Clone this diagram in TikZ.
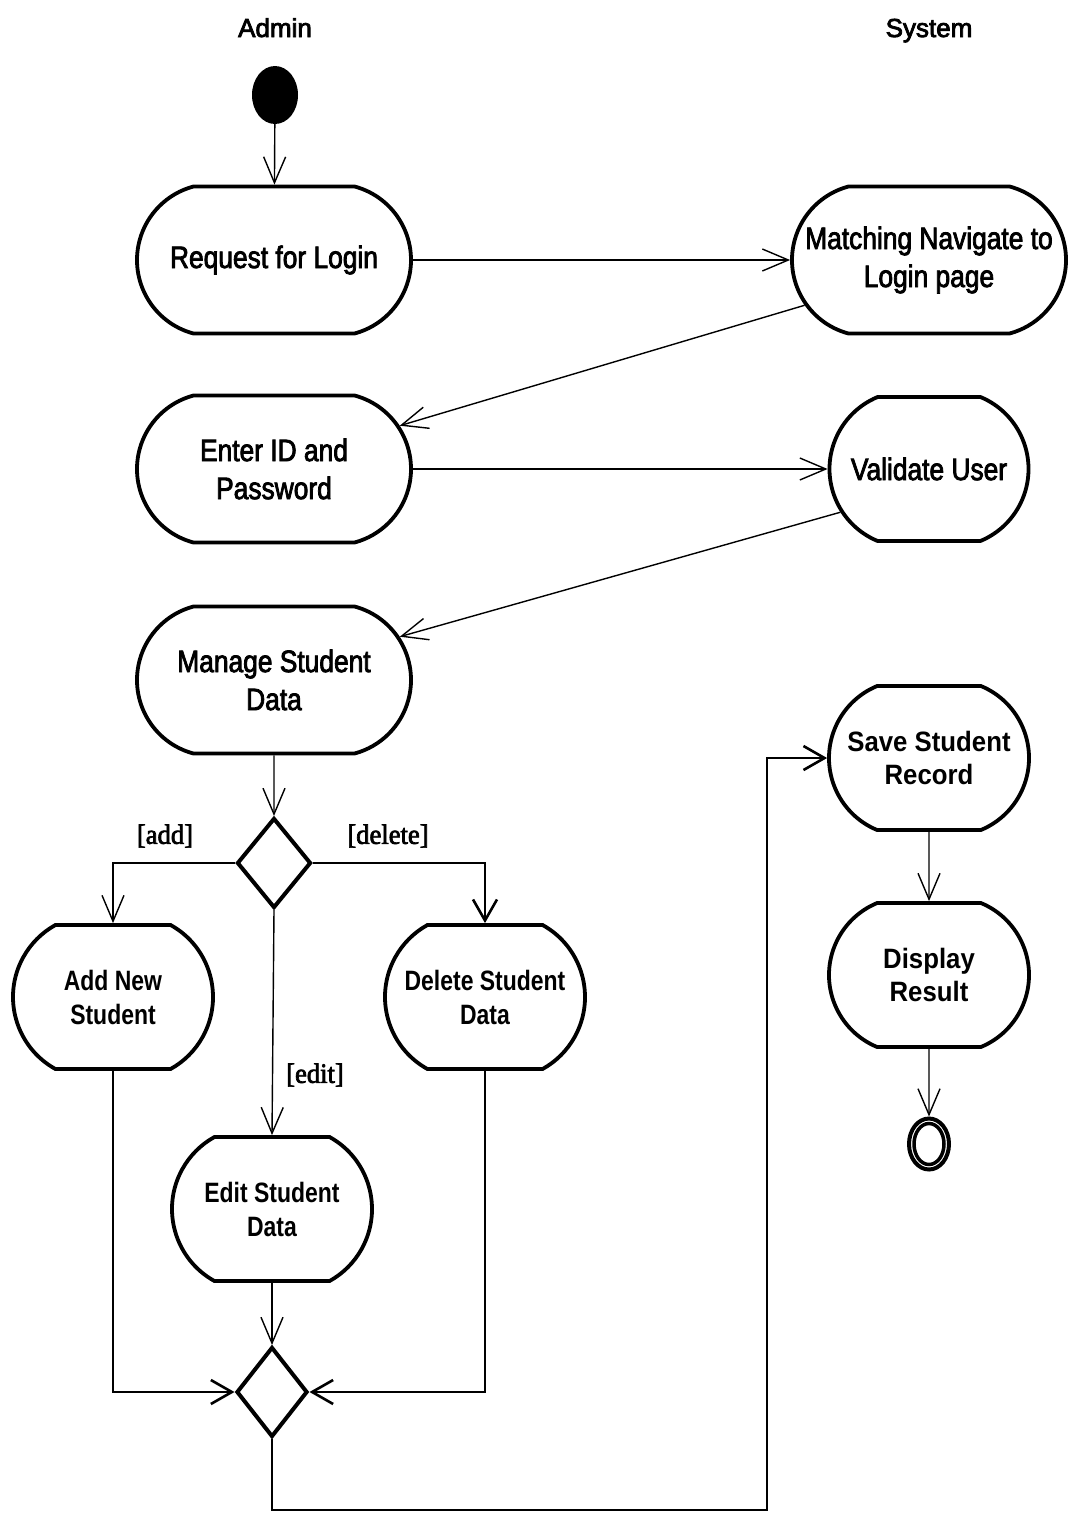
\documentclass[tikz,border=0pt]{standalone}
\usepackage{fontspec}
\usetikzlibrary{shapes.misc,shapes.geometric,arrows.meta}
\newfontfamily\lanefont[FakeBold=3]{Liberation Sans}
\newfontfamily\actfont[FakeStretch=0.85,FakeBold=2.5]{Liberation Sans}
\newfontfamily\actnarrowbold[FakeStretch=0.82]{Liberation Sans}
\newfontfamily\actwidebold[FakeStretch=0.92]{Liberation Sans}
\newfontfamily\guardfont[FakeStretch=0.95,FakeBold=2.5]{Liberation Serif}
\begin{document}
\begin{tikzpicture}[x=1pt,y=-1pt,
  act/.style={rounded rectangle, draw, line width=3.8pt, inner sep=0pt, align=center},
  bigact/.style={act, minimum width=274pt, minimum height=147pt,
    rounded rectangle arc length=150, font=\actfont\fontsize{31}{38}\selectfont},
  sysact/.style={act, minimum width=199pt, minimum height=144pt,
    rounded rectangle arc length=135, font=\actfont\fontsize{31}{38}\selectfont},
  boldact/.style={act, minimum width=200pt, minimum height=144pt,
    rounded rectangle arc length=122, font=\actnarrowbold\bfseries\fontsize{28}{34}\selectfont},
  saveact/.style={act, minimum width=200pt, minimum height=144pt,
    rounded rectangle arc length=135, font=\actwidebold\bfseries\fontsize{28}{33}\selectfont},
  choice/.style={diamond, draw, line width=4pt, inner sep=0pt},
  lane/.style={font=\lanefont\fontsize{26}{30}\selectfont, anchor=base},
  guard/.style={font=\guardfont\fontsize{28}{32}\selectfont},
  flow/.style={line width=1.4pt, -{Straight Barb[length=26pt,width=22pt]}},
  heavy/.style={line width=2.6pt, -{Straight Barb[length=21pt,width=24pt]}},
]
\useasboundingbox (0,0) rectangle (1070,1515);

% swimlane headings
\node[lane] (admin) at (275,37) {Admin};
\node[lane] (system) at (929,37) {System};

% start and end
\node[ellipse, fill=black, minimum width=46pt, minimum height=58pt, inner sep=0pt] (init) at (275,95) {};
\node[ellipse, draw, line width=4pt, minimum width=40pt, minimum height=51pt, inner sep=0pt] (fin) at (929,1144) {};
\node[ellipse, draw, line width=3.5pt, minimum width=30pt, minimum height=41pt, inner sep=0pt] (fincore) at (929,1144) {};

% activities
\node[bigact] (req) at (274,260) {Request for Login};
\node[bigact] (match) at (929,260) {Matching Navigate to\\Login page};
\node[bigact] (enter) at (274,469) {Enter ID and\\Password};
\node[sysact] (val) at (929,469) {Validate User};
\node[bigact] (man) at (274,680) {Manage Student\\Data};
\node[saveact] (save) at (929,758) {Save Student\\Record};
\node[saveact] (disp) at (929,975) {Display\\Result};
\node[boldact] (add) at (113,997) {Add New\\Student};
\node[boldact] (del) at (485,997) {Delete Student\\Data};
\node[boldact] (edit) at (272,1209) {Edit Student\\Data};

% decision and merge
\node[choice, minimum width=74pt, minimum height=90pt] (dec) at (274,863) {};
\node[choice, minimum width=71pt, minimum height=90pt] (mrg) at (272,1392) {};

% guards
\node[guard] (gadd) at (165,836) {[add]};
\node[guard] (gdel) at (388,836) {[delete]};
\node[guard] (gedit) at (315,1075) {[edit]};

% control flow
\draw[flow] (init) -- (req);
\draw[flow] (req) -- (match);
\draw[flow] (match.200) -- (enter.19);
\draw[flow] (enter) -- (val);
\draw[flow] (val.206) -- (man.19);
\draw[flow] (man) -- (dec);
\draw[flow] (dec.west) -| (add.north);
\draw[heavy] (dec.east) -| (del.north);
\draw[flow] (dec.south) -- (edit.north);
\draw[heavy] (add.south) |- (mrg.west);
\draw[heavy] (del.south) |- (mrg.east);
\draw[flow] (edit.south) -- (mrg.north);
\coordinate (bend) at (767,1510);
\draw[heavy] (mrg.south) |- (bend) |- (save.west);
\draw[flow] (save) -- (disp);
\draw[flow] (disp) -- (fin);
\end{tikzpicture}
\end{document}
